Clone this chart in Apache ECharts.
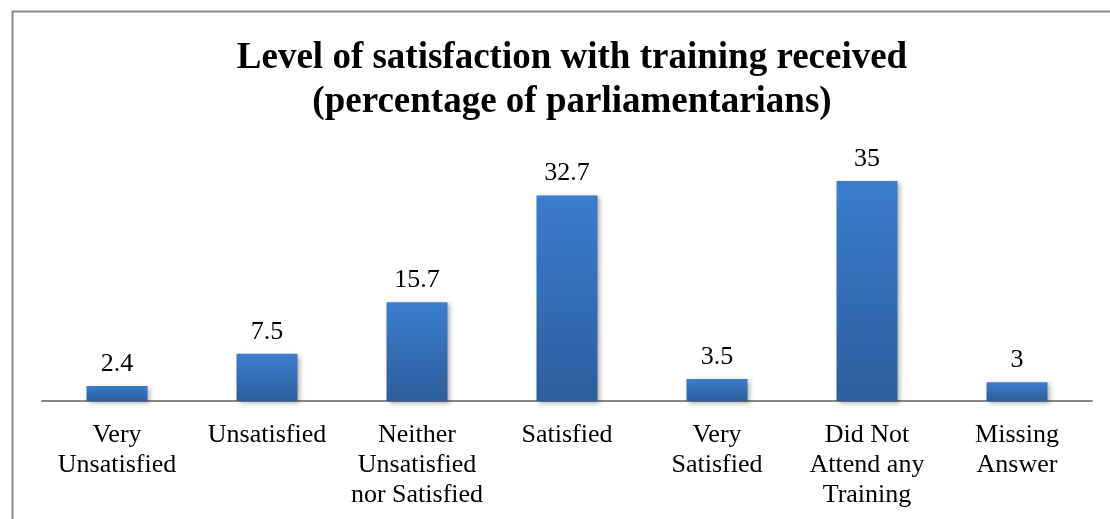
<!DOCTYPE html>
<html>
<head>
<meta charset="utf-8">
<script src="https://cdn.jsdelivr.net/npm/echarts@6/dist/echarts.min.js"></script>
<style>
html,body{margin:0;padding:0;background:#fff;}
#chart{width:1110px;height:519px;}
</style>
</head>
<body>
<div id="chart"></div>
<script>
const categories = ['Very\nUnsatisfied', 'Unsatisfied', 'Neither\nUnsatisfied\nnor Satisfied', 'Satisfied', 'Very\nSatisfied', 'Did Not\nAttend any\nTraining', 'Missing\nAnswer'];
const values = [2.4, 7.5, 15.7, 32.7, 3.5, 35, 3];
const titleLines = 'Level of satisfaction with training received\n(percentage of parliamentarians)';

const chart = echarts.init(document.getElementById('chart'), null, {renderer: 'canvas'});
const serif = 'Liberation Serif';
chart.setOption({
  animation: false,
  backgroundColor: '#fff',
  title: {
    text: titleLines,
    left: 567, top: 31,
    textAlign: 'center',
    textStyle: {fontFamily: serif, fontWeight: 'bold', fontSize: 37, lineHeight: 44, color: '#000'}
  },
  grid: {left: 42, right: 18, top: 149.6, bottom: 118, containLabel: false},
  xAxis: {
    type: 'category',
    data: categories,
    axisLine: {lineStyle: {color: '#888', width: 2}},
    axisTick: {show: false},
    axisLabel: {interval: 0, fontFamily: serif, fontSize: 26, lineHeight: 30, color: '#000', margin: 19}
  },
  yAxis: {type: 'value', min: 0, max: 40, show: false, splitLine: {show: false}},
  series: [{
    type: 'bar',
    data: values,
    barWidth: 61,
    itemStyle: {
      color: new echarts.graphic.LinearGradient(0, 0, 0, 1, [
        {offset: 0, color: '#3b7dcd'},
        {offset: 1, color: '#2d5e9c'}
      ]),
      shadowColor: 'rgba(0,0,0,0.35)', shadowBlur: 5, shadowOffsetX: 2, shadowOffsetY: 2
    },
    label: {show: true, position: 'top', distance: 9, fontFamily: serif, fontSize: 26, color: '#000'}
  }],
  graphic: [{
    type: 'polyline',
    shape: {points: [[12.5, 519], [12.5, 11.5], [1110, 11.5]]},
    style: {stroke: '#8a8a8a', lineWidth: 2, fill: null},
    silent: true
  }]
});
</script>
</body>
</html>
